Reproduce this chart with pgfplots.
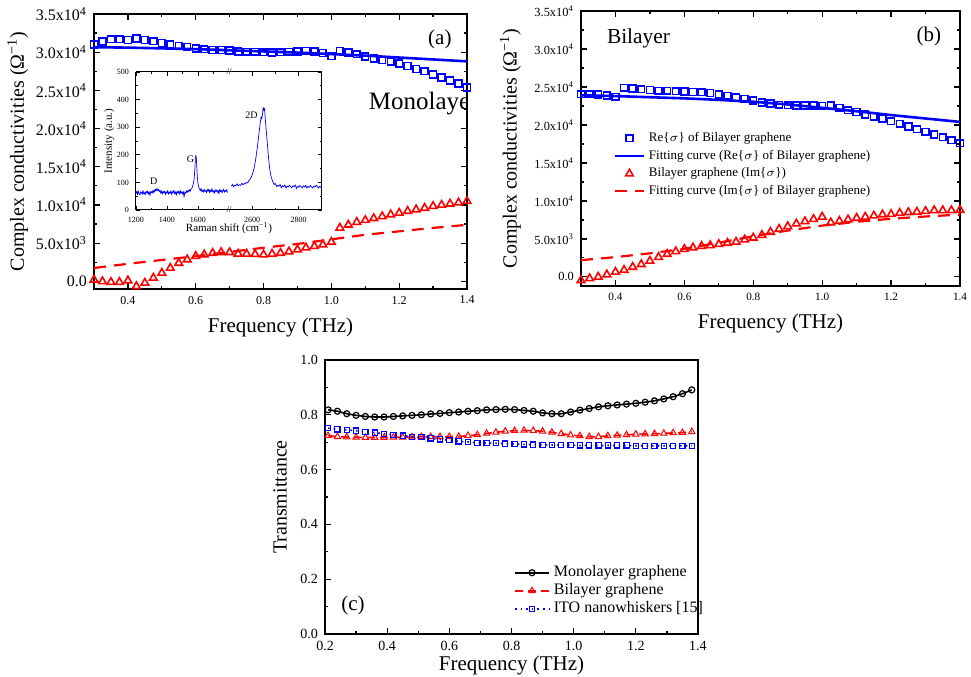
\documentclass[border=0pt]{standalone}
\usepackage{fontspec}
\setmainfont{Liberation Serif}
\usepackage{pgfplots}
\pgfplotsset{compat=1.18}
\usepackage{pgfplotstable}

% panel (a): monolayer
\pgfplotstableread{
x     re     im
0.300 31000  200
0.325 31400  0
0.350 31700  -100
0.375 31700  -100
0.400 31600  100
0.425 31800  -650
0.450 31600  -200
0.475 31450  450
0.500 31200  1100
0.525 31000  1750
0.550 30850  2400
0.575 30700  2850
0.600 30500  3300
0.625 30400  3500
0.650 30300  3700
0.675 30300  3800
0.700 30200  3800
0.725 30100  3600
0.750 30050  3600
0.775 30050  3550
0.800 30000  3500
0.825 29950  3600
0.850 30000  3700
0.875 30050  3900
0.900 30100  4150
0.925 30150  4400
0.950 30100  4600
0.975 29900  4800
1.000 29500  5150
1.025 30150  7000
1.050 29950  7400
1.075 29750  7750
1.100 29450  8000
1.125 29200  8250
1.150 28950  8500
1.175 28800  8750
1.200 28500  8950
1.225 28200  9200
1.250 27800  9400
1.275 27500  9600
1.300 27100  9850
1.325 26700  10000
1.350 26300  10150
1.375 25900  10300
1.400 25400  10500
}\monodata

\pgfplotstableread{
x    re     im
0.3  30650  1750
0.4  30600  2300
0.5  30500  2800
0.6  30400  3300
0.7  30250  3850
0.8  30100  4400
0.9  29950  4900
1.0  29750  5500
1.1  29550  6100
1.2  29300  6550
1.3  29050  7000
1.4  28800  7400
}\monofit

% panel (b): bilayer
\pgfplotstableread{
x     re     im
0.300 24050  -450
0.325 24050  -200
0.350 24000  0
0.375 23900  300
0.400 23700  650
0.425 24900  900
0.450 24800  1300
0.475 24700  1650
0.500 24600  2100
0.525 24500  2600
0.550 24500  3000
0.575 24450  3350
0.600 24400  3650
0.625 24350  3850
0.650 24300  4050
0.675 24200  4150
0.700 24000  4300
0.725 23850  4450
0.750 23600  4600
0.775 23450  4900
0.800 23200  5150
0.825 22950  5500
0.850 22800  5900
0.875 22650  6300
0.900 22600  6650
0.925 22550  7000
0.950 22550  7300
0.975 22550  7600
1.000 22500  7900
1.025 22550  7150
1.050 22250  7350
1.075 21950  7550
1.100 21700  7750
1.125 21400  7900
1.150 21100  8050
1.175 20800  8200
1.200 20500  8250
1.225 20150  8400
1.250 19800  8500
1.275 19450  8550
1.300 19100  8650
1.325 18750  8750
1.350 18400  8750
1.375 18000  8750
1.400 17600  8800
}\bidata

\pgfplotstableread{
x    re     im
0.3  23900  2200
0.4  23800  2600
0.5  23650  3100
0.6  23500  3700
0.7  23300  4500
0.8  23050  5350
0.9  22700  6100
1.0  22250  6750
1.1  21800  7250
1.2  21300  7650
1.3  20850  7950
1.4  20400  8200
}\bifit

% panel (c): transmittance
\pgfplotstableread{
x     mono   bi     ito
0.21  0.818  0.724  0.751
0.24  0.813  0.720  0.747
0.27  0.804  0.719  0.745
0.30  0.798  0.718  0.742
0.33  0.794  0.717  0.738
0.36  0.792  0.717  0.735
0.39  0.792  0.717  0.731
0.42  0.794  0.718  0.727
0.45  0.796  0.718  0.724
0.48  0.798  0.719  0.720
0.51  0.800  0.720  0.718
0.54  0.803  0.720  0.714
0.57  0.805  0.720  0.710
0.60  0.808  0.720  0.707
0.63  0.810  0.721  0.703
0.66  0.813  0.724  0.701
0.69  0.815  0.727  0.698
0.72  0.818  0.732  0.697
0.75  0.819  0.736  0.696
0.78  0.820  0.740  0.695
0.81  0.819  0.742  0.693
0.84  0.816  0.743  0.692
0.87  0.813  0.742  0.691
0.90  0.807  0.740  0.690
0.93  0.804  0.736  0.690
0.96  0.804  0.731  0.689
0.99  0.810  0.726  0.689
1.02  0.817  0.723  0.688
1.05  0.823  0.720  0.688
1.08  0.829  0.720  0.688
1.11  0.833  0.723  0.688
1.14  0.836  0.725  0.688
1.17  0.839  0.727  0.688
1.20  0.842  0.729  0.687
1.23  0.846  0.730  0.687
1.26  0.851  0.731  0.687
1.29  0.858  0.732  0.687
1.32  0.866  0.734  0.687
1.35  0.877  0.735  0.687
1.38  0.891  0.738  0.687
}\transdata

% inset: Raman spectrum, two pieces either side of the axis break
\pgfplotstableread{
x    y
1200 60
1205 68
1210 55
1215 70
1220 59
1225 54
1230 66
1235 63
1240 56
1245 71
1250 58
1255 63
1260 55
1265 68
1270 61
1275 69
1280 57
1285 66
1290 52
1295 67
1300 62
1305 70
1310 60
1315 73
1320 65
1325 76
1330 69
1335 78
1340 70
1345 75
1350 66
1355 72
1360 60
1365 70
1370 58
1375 67
1380 62
1385 69
1390 55
1395 66
1400 61
1405 71
1410 57
1415 65
1420 60
1425 70
1430 56
1435 67
1440 62
1445 72
1450 58
1455 66
1460 53
1465 69
1470 61
1475 67
1480 57
1485 72
1490 60
1495 66
1500 58
1505 68
1510 46
1515 65
1520 60
1525 70
1530 63
1535 72
1540 66
1545 74
1550 68
1555 76
1560 78
1565 86
1570 95
1575 112
1580 150
1583 185
1586 198
1589 190
1592 160
1595 125
1600 95
1605 82
1610 76
1615 70
1620 78
1625 66
1630 72
1635 64
1640 75
1645 67
1650 71
1655 62
1660 74
1665 68
1670 76
1675 63
1680 72
1685 66
1690 78
1695 65
1700 70
1705 60
1710 74
1715 67
1720 73
1725 64
1730 71
1735 58
1740 75
1745 66
1750 72
1755 62
1760 70
1765 76
1770 64
1775 71
1780 67
1785 74
1790 63
}\ramanL

\pgfplotstableread{
x    y
2510 86
2515 93
2520 84
2525 90
2530 88
2535 95
2540 87
2545 92
2550 89
2555 97
2560 91
2565 96
2570 94
2575 100
2580 98
2585 106
2590 110
2595 118
2600 128
2605 142
2610 160
2615 185
2620 215
2625 248
2630 285
2635 320
2638 338
2641 330
2644 348
2647 372
2650 360
2653 368
2656 330
2660 290
2665 240
2670 190
2675 150
2680 125
2685 110
2690 100
2695 92
2700 96
2705 84
2710 90
2715 86
2720 93
2725 80
2730 88
2735 84
2740 91
2745 79
2750 87
2755 83
2760 90
2765 85
2770 80
2775 88
2780 84
2785 91
2790 78
2795 86
2800 82
2805 89
2810 84
2815 80
2820 88
2825 83
2830 90
2835 79
2840 86
2845 82
2850 89
2855 84
2860 80
2865 87
2870 83
2875 90
2880 85
2885 79
2890 86
2895 82
2900 88
}\ramanR

\pgfplotsset{
  panel/.style={
    scale only axis, anchor=south west,
    tick align=inside,
    axis line style={line width=0.8pt},
    every tick/.append style={black, line width=0.6pt},
    major tick length=3pt, minor tick length=1.6pt,
    tick label style={font=\fontsize{7}{8}\selectfont},
    xlabel style={font=\fontsize{10.5}{12}\selectfont},
    ylabel style={font=\fontsize{10}{12}\selectfont},
    /pgf/number format/assume math mode=true,
    /pgf/number format/fixed,
    /pgf/number format/fixed zerofill,
    /pgf/number format/precision=1,
  },
  sigma/.style={
    xmin=0.3, xmax=1.4, ymin=-1000, ymax=35000,
    xtick={0.4,0.6,0.8,1.0,1.2,1.4},
    minor xtick={0.3,0.5,0.7,0.9,1.1,1.3},
    ytick={0,5000,10000,15000,20000,25000,30000,35000},
    yticklabels={0.0, 5.0x10\textsuperscript{3}, 1.0x10\textsuperscript{4},
      1.5x10\textsuperscript{4}, 2.0x10\textsuperscript{4}, 2.5x10\textsuperscript{4},
      3.0x10\textsuperscript{4}, 3.5x10\textsuperscript{4}},
    minor y tick num=1, scaled y ticks=false,
    xlabel={Frequency (THz)},
    ylabel={Complex conductivities (Ω\textsuperscript{−1})},
  },
  sq/.style={blue, only marks, mark=square, mark size=1.7pt, mark options={line width=0.8pt}},
  tri/.style={red, only marks, mark=triangle, mark size=2.2pt, mark options={line width=0.8pt}},
  fitre/.style={blue, line width=1.3pt, no marks},
  fitim/.style={red, line width=1.1pt, dash pattern=on 6pt off 4pt, no marks},
  inset/.style={
    scale only axis, anchor=south west,
    width=46.5pt, height=69pt,
    ymin=0, ymax=500, ytick={0,100,200,300,400,500}, minor y tick num=1,
    tick align=inside,
    axis line style={-, line width=0.5pt},
    every tick/.append style={black, line width=0.4pt},
    major tick length=1.8pt, minor tick length=1pt,
    tick label style={font=\fontsize{4}{5}\selectfont},
    label style={font=\fontsize{5.5}{6}\selectfont},
    /pgf/number format/assume math mode=true,
    /pgf/number format/1000 sep={},
    axis x line*=box,
  },
}

\begin{document}
\begin{tikzpicture}
\path[use as bounding box] (0,0) rectangle (485.5pt,338pt);

% (a)
\begin{axis}[panel, sigma, at={(47pt,193.5pt)}, width=186.5pt, height=137.5pt,
  xticklabel style={font=\fontsize{6}{7}\selectfont},
  yticklabel style={font=\fontsize{8}{9}\selectfont},
  ylabel style={yshift=-3pt}]
\addplot[fitre] table[x=x, y=re] {\monofit};
\addplot[fitim] table[x=x, y=im] {\monofit};
\addplot[sq] table[x=x, y=re] {\monodata};
\addplot[tri] table[x=x, y=im] {\monodata};
\node[font=\fontsize{10.5}{12}\selectfont] at (axis cs:1.32,31700) {(a)};
\node[font=\fontsize{12.5}{14}\selectfont, anchor=west] at (axis cs:1.09,23300) {Monolayer};
\end{axis}

% inset
\begin{axis}[inset, name=insetL, at={(68pt,233pt)},
  xmin=1200, xmax=1800, xtick={1200,1400,1600}, minor xtick={1300,1500,1700},
  axis y line*=left, ylabel={Intensity (a.u.)}, ylabel style={yshift=-5.5pt}]
\addplot[blue, line width=0.35pt, no marks, line join=round] table[x=x, y=y] {\ramanL};
\node[font=\fontsize{5}{6}\selectfont] at (axis cs:1314,106) {D};
\node[font=\fontsize{5}{6}\selectfont] at (axis cs:1552,185) {G};
\end{axis}
\begin{axis}[inset, name=insetR, at={(insetL.south east)},
  xmin=2500, xmax=2900, xtick={2600,2800}, minor xtick={2700},
  axis y line*=right, yticklabels={}]
\addplot[blue, line width=0.35pt, no marks, line join=round] table[x=x, y=y] {\ramanR};
\node[font=\fontsize{5}{6}\selectfont] at (axis cs:2597,344) {2D};
\end{axis}
\node[font=\fontsize{4.5}{5}\selectfont, inner sep=0pt] at (insetL.north east) {//};
\node[font=\fontsize{4.5}{5}\selectfont, inner sep=0pt] at (insetL.south east) {//};
\node[font=\fontsize{5.5}{6}\selectfont] at ([yshift=-9pt]insetL.south east) {Raman shift (cm\textsuperscript{−1})};

% (b)
\begin{axis}[panel, sigma, at={(290.5pt,195pt)}, width=189.5pt, height=137.5pt, ymin=-1200,
  xticklabel style={font=\fontsize{5.6}{7}\selectfont},
  yticklabel style={font=\fontsize{6.2}{7}\selectfont},
  legend style={at={(0.07,0.59)}, anchor=north west, draw=none, fill=none,
    font=\fontsize{6.5}{7.5}\selectfont, row sep=-1.2pt},
  legend cell align=left,
  legend image code/.code={\draw[mark repeat=2,mark phase=2,#1] plot coordinates {(0cm,0cm) (0.25cm,0cm) (0.5cm,0cm)};}]
\addplot[sq] table[x=x, y=re] {\bidata};
\addlegendentry{Re\{$\sigma$\} of Bilayer graphene}
\addplot[fitre] table[x=x, y=re] {\bifit};
\addlegendentry{Fitting curve (Re\{$\sigma$\} of Bilayer graphene)}
\addplot[tri] table[x=x, y=im] {\bidata};
\addlegendentry{Bilayer graphene (Im\{$\sigma$\})}
\addplot[fitim] table[x=x, y=im] {\bifit};
\addlegendentry{Fitting curve (Im\{$\sigma$\} of Bilayer graphene)}
\node[font=\fontsize{10.7}{12}\selectfont, anchor=west] at (axis cs:0.355,31400) {Bilayer};
\node[font=\fontsize{10.5}{12}\selectfont] at (axis cs:1.31,31700) {(b)};
\end{axis}

% (c)
\begin{axis}[panel, at={(162.5pt,21pt)}, width=186.5pt, height=137pt,
  xmin=0.2, xmax=1.4, ymin=0, ymax=1,
  xtick={0.2,0.4,0.6,0.8,1.0,1.2,1.4}, minor x tick num=1,
  ytick={0,0.2,0.4,0.6,0.8,1.0}, minor y tick num=1,
  tick pos=left,
  xlabel={Frequency (THz)}, ylabel={Transmittance},
  xlabel style={yshift=4pt},
  legend style={at={(0.49,0.28)}, anchor=north west, draw=none, fill=none,
    font=\fontsize{8}{9}\selectfont, row sep=-2pt},
  legend cell align=left]
\addplot[black, line width=0.8pt, mark=o, mark size=1.5pt, mark options={line width=0.6pt}] table[x=x, y=mono] {\transdata};
\addlegendentry{Monolayer graphene}
\addplot[red, line width=0.8pt, dash pattern=on 4pt off 2.5pt, mark=triangle, mark size=1.8pt, mark options={solid, line width=0.5pt}] table[x=x, y=bi] {\transdata};
\addlegendentry{Bilayer graphene}
\addplot[blue, line width=0.8pt, dotted, mark=square, mark size=1.3pt, mark options={solid, line width=0.6pt}] table[x=x, y=ito] {\transdata};
\addlegendentry{ITO nanowhiskers [15]}
\node[font=\fontsize{10.5}{12}\selectfont] at (axis cs:0.29,0.106) {(c)};
\end{axis}
\end{tikzpicture}
\end{document}
